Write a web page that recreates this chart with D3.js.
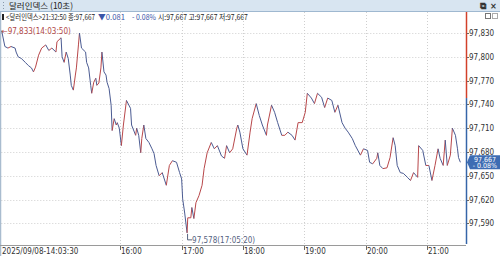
<!DOCTYPE html>
<html>
<head>
<meta charset="utf-8">
<script src="https://d3js.org/d3.v7.min.js"></script>
<style>
  body { margin: 0; background: #fff; }
  svg { display: block; }
  text { font-family: "Liberation Sans Narrow", "DejaVu Sans Condensed", "Liberation Sans", sans-serif; }
  .kr { font-family: "Noto Sans CJK KR", sans-serif; }
</style>
</head>
<body>
<script>
// 10-second dollar index
var times = ["14:03:50","14:07","14:10","14:13","14:17","14:18","14:20","14:23","14:27","14:30",
  "14:33","14:35","14:37","14:40","14:43","14:47","14:50","14:53","14:57","14:58",
  "15:02","15:03","15:05","15:07","15:09","15:11","15:12","15:14","15:16","15:17",
  "15:19","15:20","15:22","15:26","15:27","15:29","15:31","15:32","15:34","15:36",
  "15:37","15:39","15:41","15:42","15:44","15:46","15:47","15:49","15:51","15:52",
  "15:54","15:56","15:57","15:59","16:01","16:03","16:06","16:10","16:11","16:15",
  "16:16","16:18","16:20","16:21","16:23","16:25","16:28","16:31","16:33","16:35",
  "16:38","16:41","16:45","16:48","16:51","16:55","16:58","17:00","17:01","17:03",
  "17:05:20","17:06","17:09","17:10","17:12","17:14","17:17","17:20","17:22","17:25",
  "17:29","17:32","17:35","17:39","17:42","17:44","17:47","17:50","17:54","17:55",
  "17:57","18:00","18:04","18:07","18:09","18:13","18:16","18:19","18:23","18:24",
  "18:28","18:31","18:34","18:38","18:41","18:44","18:48","18:51","18:54","18:58",
  "19:01","19:03","19:07","19:10","19:13","19:17","19:20","19:23","19:27","19:30",
  "19:33","19:37","19:40","19:43","19:47","19:50","19:55","19:58","20:02","20:04",
  "20:07","20:11","20:12","20:14","20:17","20:21","20:24","20:27","20:29","20:31",
  "20:34","20:37","20:41","20:44","20:47","20:51","20:52","20:56","20:59","21:02",
  "21:05","21:08","21:11","21:13","21:16","21:18","21:20","21:23","21:25","21:28",
  "21:30","21:31","21:32:50"];
var prices = [97.833,97.813,97.811,97.813,97.811,97.806,97.800,97.798,97.793,97.789,
  97.786,97.781,97.787,97.802,97.811,97.815,97.808,97.811,97.806,97.819,
  97.824,97.800,97.793,97.806,97.798,97.777,97.764,97.758,97.777,97.786,
  97.815,97.830,97.811,97.806,97.793,97.786,97.764,97.754,97.768,97.773,
  97.764,97.767,97.786,97.806,97.781,97.777,97.768,97.760,97.739,97.707,
  97.722,97.714,97.717,97.710,97.688,97.714,97.745,97.735,97.714,97.701,
  97.710,97.701,97.679,97.697,97.714,97.697,97.692,97.684,97.678,97.663,
  97.650,97.654,97.638,97.663,97.669,97.667,97.654,97.646,97.621,97.603,
  97.578,97.597,97.597,97.610,97.596,97.616,97.625,97.638,97.659,97.679,
  97.692,97.684,97.688,97.675,97.672,97.688,97.679,97.684,97.710,97.714,
  97.705,97.684,97.676,97.705,97.722,97.741,97.726,97.714,97.701,97.714,
  97.739,97.730,97.717,97.701,97.701,97.705,97.701,97.695,97.717,97.717,
  97.730,97.754,97.748,97.741,97.754,97.749,97.736,97.748,97.745,97.730,
  97.739,97.717,97.710,97.705,97.697,97.688,97.676,97.684,97.682,97.667,
  97.665,97.672,97.679,97.663,97.659,97.660,97.673,97.698,97.688,97.663,
  97.654,97.653,97.648,97.644,97.654,97.648,97.688,97.682,97.663,97.663,
  97.644,97.663,97.684,97.672,97.663,97.695,97.663,97.676,97.710,97.701,
  97.684,97.673,97.667];
var yTicks = [97.59, 97.62, 97.65, 97.68, 97.71, 97.74, 97.77, 97.80, 97.83];
var hourTicks = ["16:00", "17:00", "18:00", "19:00", "20:00", "21:00"];
var startLabel = "2025/09/08-14:03:30";
var prevClose = 97.748;
var lastPrice = 97.667;
var changePct = "- 0.08%";
var highMark = { time: "14:03:50", value: 97.833 };
var lowMark = { time: "17:05:20", value: 97.578 };

var W = 500, H = 256;
var upColor = "#b8474a", downColor = "#4b5b92";
var parseT = function (s) { return d3.timeParse("%H:%M:%S")(s.length === 5 ? s + ":00" : s); };
var fmt = function (v) { return d3.format(".3f")(v).replace(".", ","); };

var data = times.map(function (t, i) { return { t: parseT(t), v: prices[i] }; });

var plotL = 1.3, plotR = 466, plotT = 22, plotB = 245;
var x = d3.scaleTime().domain([parseT("14:03:30"), parseT("21:38:20")]).range([plotL, plotR]);
var y = d3.scaleLinear().domain([97.5627, 97.8439]).range([plotB, plotT]);

var svg = d3.select("body").append("svg").attr("width", W).attr("height", H);

// title bar
svg.append("rect").attr("x", 0).attr("y", 0).attr("width", W).attr("height", 11).attr("fill", "#d8e5f1");
svg.append("line").attr("x1", 0).attr("x2", W).attr("y1", 11.5).attr("y2", 11.5).attr("stroke", "#9fb8d0");
[2, 5, 8].forEach(function (d) {
  svg.append("rect").attr("x", 3).attr("y", d).attr("width", 1).attr("height", 1).attr("fill", "#8899aa");
});
svg.append("text").attr("class", "kr").attr("x", 9).attr("y", 9).attr("font-size", 8.5).attr("fill", "#222")
  .text("달러인덱스 (10초)");
svg.append("text").attr("x", 480).attr("y", 9).attr("font-size", 9).attr("font-weight", "bold").attr("fill", "#333").text("⧉");
svg.append("text").attr("x", 490).attr("y", 9).attr("font-size", 9).attr("font-weight", "bold").attr("fill", "#333").text("×");

// info line, each piece squeezed to the width it has in the picture
svg.append("rect").attr("x", 2).attr("y", 14).attr("width", 2).attr("height", 6).attr("fill", "#222");
var infoParts = [
  { s: "<달러인덱스>21:32:50 종:97,667", x: 6, w: 89, c: "#222" },
  { s: "▼0.081", x: 98, w: 27, c: "#3a55a8" },
  { s: "- 0.08%", x: 132, w: 24, c: "#3a55a8" },
  { s: "시:97,667 고:97,667 저:97,667", x: 158, w: 90, c: "#222" }
];
infoParts.forEach(function (p) {
  var t = svg.append("text").attr("class", "kr").attr("x", 0).attr("y", 0).attr("font-size", 8)
    .attr("fill", p.c).text(p.s);
  var len = t.node().getComputedTextLength();
  t.attr("transform", "translate(" + p.x + ",20) scale(" + (p.w / len) + ",1)");
});
svg.append("rect").attr("x", 485.5).attr("y", 13.5).attr("width", 5).attr("height", 5).attr("fill", "none").attr("stroke", "#777");
svg.append("rect").attr("x", 492.5).attr("y", 13.5).attr("width", 5).attr("height", 5).attr("fill", "none").attr("stroke", "#aaa");

// grid
svg.append("g").selectAll("line").data(yTicks).join("line")
  .attr("x1", plotL).attr("x2", plotR).attr("y1", function (d) { return Math.round(y(d)) + 0.5; })
  .attr("y2", function (d) { return Math.round(y(d)) + 0.5; })
  .attr("stroke", "#cfcfcf").attr("stroke-dasharray", "1,2");
svg.append("g").selectAll("line").data(hourTicks).join("line")
  .attr("x1", function (d) { return Math.round(x(parseT(d))) + 0.5; })
  .attr("x2", function (d) { return Math.round(x(parseT(d))) + 0.5; })
  .attr("y1", 12).attr("y2", plotB)
  .attr("stroke", "#cfcfcf").attr("stroke-dasharray", "1,2");

// frame
svg.append("line").attr("x1", 0.5).attr("x2", 0.5).attr("y1", 12).attr("y2", H).attr("stroke", "#a9bccf").attr("stroke-width", 1.5);
svg.append("line").attr("x1", 0).attr("x2", plotR).attr("y1", plotB + 0.5).attr("y2", plotB + 0.5).attr("stroke", "#9a9a9a");

// price segments, red when rising, blue when falling
var segs = d3.pairs(data);
svg.append("g").selectAll("line").data(segs).join("line")
  .attr("x1", function (d) { return x(d[0].t); }).attr("y1", function (d) { return y(d[0].v); })
  .attr("x2", function (d) { return x(d[1].t); }).attr("y2", function (d) { return y(d[1].v); })
  .attr("stroke", function (d) { return d[1].v >= d[0].v ? upColor : downColor; })
  .attr("stroke-width", 1);

// right axis, red above previous close and blue below
svg.append("line").attr("x1", plotR + 0.5).attr("x2", plotR + 0.5).attr("y1", 12).attr("y2", y(prevClose))
  .attr("stroke", "#d2402a").attr("stroke-width", 1.5);
svg.append("line").attr("x1", plotR + 0.5).attr("x2", plotR + 0.5).attr("y1", y(prevClose)).attr("y2", plotB - 1)
  .attr("stroke", "#3565a8").attr("stroke-width", 1.5);
var yAx = svg.append("g").selectAll("g").data(yTicks).join("g")
  .attr("transform", function (d) { return "translate(0," + Math.round(y(d)) + ")"; });
yAx.append("line").attr("x1", plotR + 1).attr("x2", plotR + 3).attr("y1", 0.5).attr("y2", 0.5).attr("stroke", "#666");
yAx.append("text").attr("x", plotR + 3).attr("y", 3).attr("font-size", 8).attr("fill", "#333")
  .text(function (d) { return fmt(d); });

// x axis
var xAx = svg.append("g").selectAll("g").data(hourTicks).join("g")
  .attr("transform", function (d) { return "translate(" + Math.round(x(parseT(d))) + ",0)"; });
xAx.append("line").attr("x1", 0.5).attr("x2", 0.5).attr("y1", plotB + 1).attr("y2", plotB + 5).attr("stroke", "#666");
xAx.append("text").attr("x", 1).attr("y", 254).attr("font-size", 8).attr("fill", "#333").text(function (d) { return d; });
svg.append("text").attr("x", 2).attr("y", 254).attr("font-size", 8).attr("fill", "#333").text(startLabel);

// last price box
var ly = y(lastPrice);
svg.append("path")
  .attr("d", "M" + (plotR + 1) + "," + ly + "L" + (plotR + 4) + "," + (ly - 7) + "H" + W + "V" + (ly + 7) + "H" + (plotR + 4) + "Z")
  .attr("fill", "#3d6cb3");
svg.append("text").attr("x", 496).attr("y", ly - 0.5).attr("text-anchor", "end").attr("font-size", 7)
  .attr("fill", "#fff").text(fmt(lastPrice));
svg.append("text").attr("x", 497).attr("y", ly + 6).attr("text-anchor", "end").attr("font-size", 7)
  .attr("fill", "#fff").text(changePct);

// high / low marks
var hx = x(parseT(highMark.time)), hy = y(highMark.value);
svg.append("text").attr("x", hx).attr("y", hy + 3).attr("font-size", 8).attr("fill", "#b04848")
  .text("←" + fmt(highMark.value) + "(" + highMark.time + ")");
var lx = x(parseT(lowMark.time)), lyy = y(lowMark.value);
svg.append("path").attr("d", "M" + (lx + 0.5) + "," + (lyy + 1) + "V" + (lyy + 7) + "H" + (lx + 5))
  .attr("fill", "none").attr("stroke", "#55637f");
svg.append("text").attr("x", lx + 5).attr("y", lyy + 10).attr("font-size", 8).attr("fill", "#55637f")
  .text(fmt(lowMark.value) + "(" + lowMark.time + ")");
</script>
</body>
</html>
